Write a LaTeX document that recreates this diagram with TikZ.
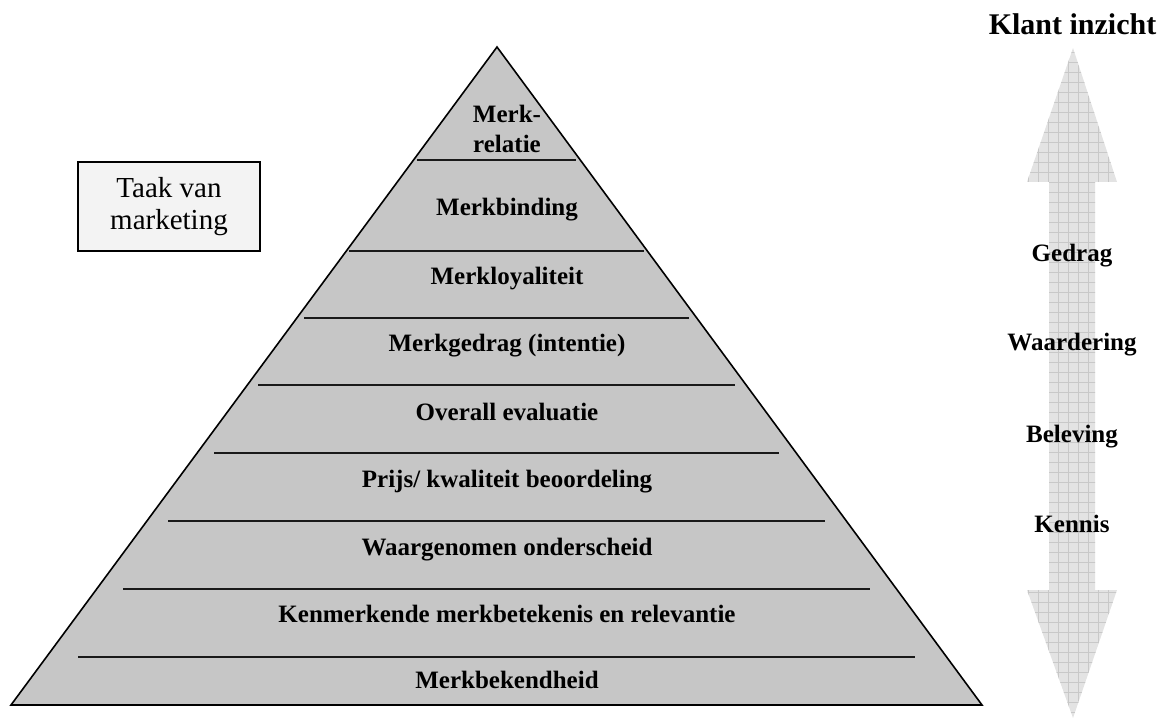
\documentclass[tikz,border=0pt]{standalone}
\usepackage{fontspec}
\setmainfont{Liberation Serif}
\definecolor{pyrfill}{HTML}{C6C6C6}
\definecolor{arrowbg}{HTML}{E3E3E3}
\definecolor{arrowgrid}{HTML}{C8C8C8}
\definecolor{boxfill}{HTML}{F3F3F3}
\begin{document}
\begin{tikzpicture}[x=1pt,y=-1pt,
  lbl/.style={font=\fontsize{25}{30}\selectfont\bfseries, anchor=base, inner sep=0pt},
  sidelbl/.style={font=\fontsize{25}{30}\selectfont\bfseries, anchor=base, inner sep=0pt},
  divline/.style={line width=2pt, draw=black!90},
  pyr/.style={fill=pyrfill, draw=black, line width=1.6pt},
  taskbox/.style={draw=black, line width=1.8pt, fill=boxfill, minimum width=182pt, minimum height=89pt, align=center, inner sep=0pt, font=\fontsize{29}{32}\selectfont}
]
\useasboundingbox (0,0) rectangle (1162,719);

% pyramid
\path[pyr] (497,47) -- (982,705) -- (11,705) -- cycle;
\foreach \yy/\xx in {160/417, 251/349, 318/304, 385/258, 453/214, 521/168, 589/123, 657/78}
  \draw[divline] (\xx,\yy) -- (993-\xx,\yy);

% pyramid labels
\node[lbl] (l1a) at (507,123) {Merk-};
\node[lbl] (l1b) at (507,153) {relatie};
\node[lbl] (l2) at (507,216) {Merkbinding};
\node[lbl] (l3) at (507,285) {Merkloyaliteit};
\node[lbl] (l4) at (507,352) {Merkgedrag (intentie)};
\node[lbl] (l5) at (507,420) {Overall evaluatie};
\node[lbl] (l6) at (507,487) {Prijs/ kwaliteit beoordeling};
\node[lbl] (l7) at (507,555) {Waargenomen onderscheid};
\node[lbl] (l8) at (507,622) {Kenmerkende merkbetekenis en relevantie};
\node[lbl] (l9) at (507,688) {Merkbekendheid};

% task box
\node[taskbox] (task) at (169,206.5) {Taak van\\marketing};

% double arrow
\fill[arrowbg] (1073,48) -- (1117,182) -- (1095,182) -- (1095,590) -- (1117,590) -- (1073,718) -- (1027,590) -- (1049,590) -- (1049,182) -- (1027,182) -- cycle;
\begin{scope}
  \clip (1073,48) -- (1117,182) -- (1095,182) -- (1095,590) -- (1117,590) -- (1073,718) -- (1027,590) -- (1049,590) -- (1049,182) -- (1027,182) -- cycle;
  \foreach \gx in {1028,1038,...,1118} \draw[arrowgrid, line width=0.8pt] (\gx,40) -- (\gx,720);
  \foreach \gy in {52,62,...,718} \draw[arrowgrid, line width=0.8pt] (1020,\gy) -- (1125,\gy);
\end{scope}

% right labels
\node[font=\fontsize{30}{34}\selectfont\bfseries, anchor=base, inner sep=0pt] (title) at (1072.5,35) {Klant inzicht};
\node[sidelbl] (r1) at (1072,262) {Gedrag};
\node[sidelbl] (r2) at (1072,350) {Waardering};
\node[sidelbl] (r3) at (1072,442) {Beleving};
\node[sidelbl] (r4) at (1072,532) {Kennis};
\end{tikzpicture}
\end{document}
